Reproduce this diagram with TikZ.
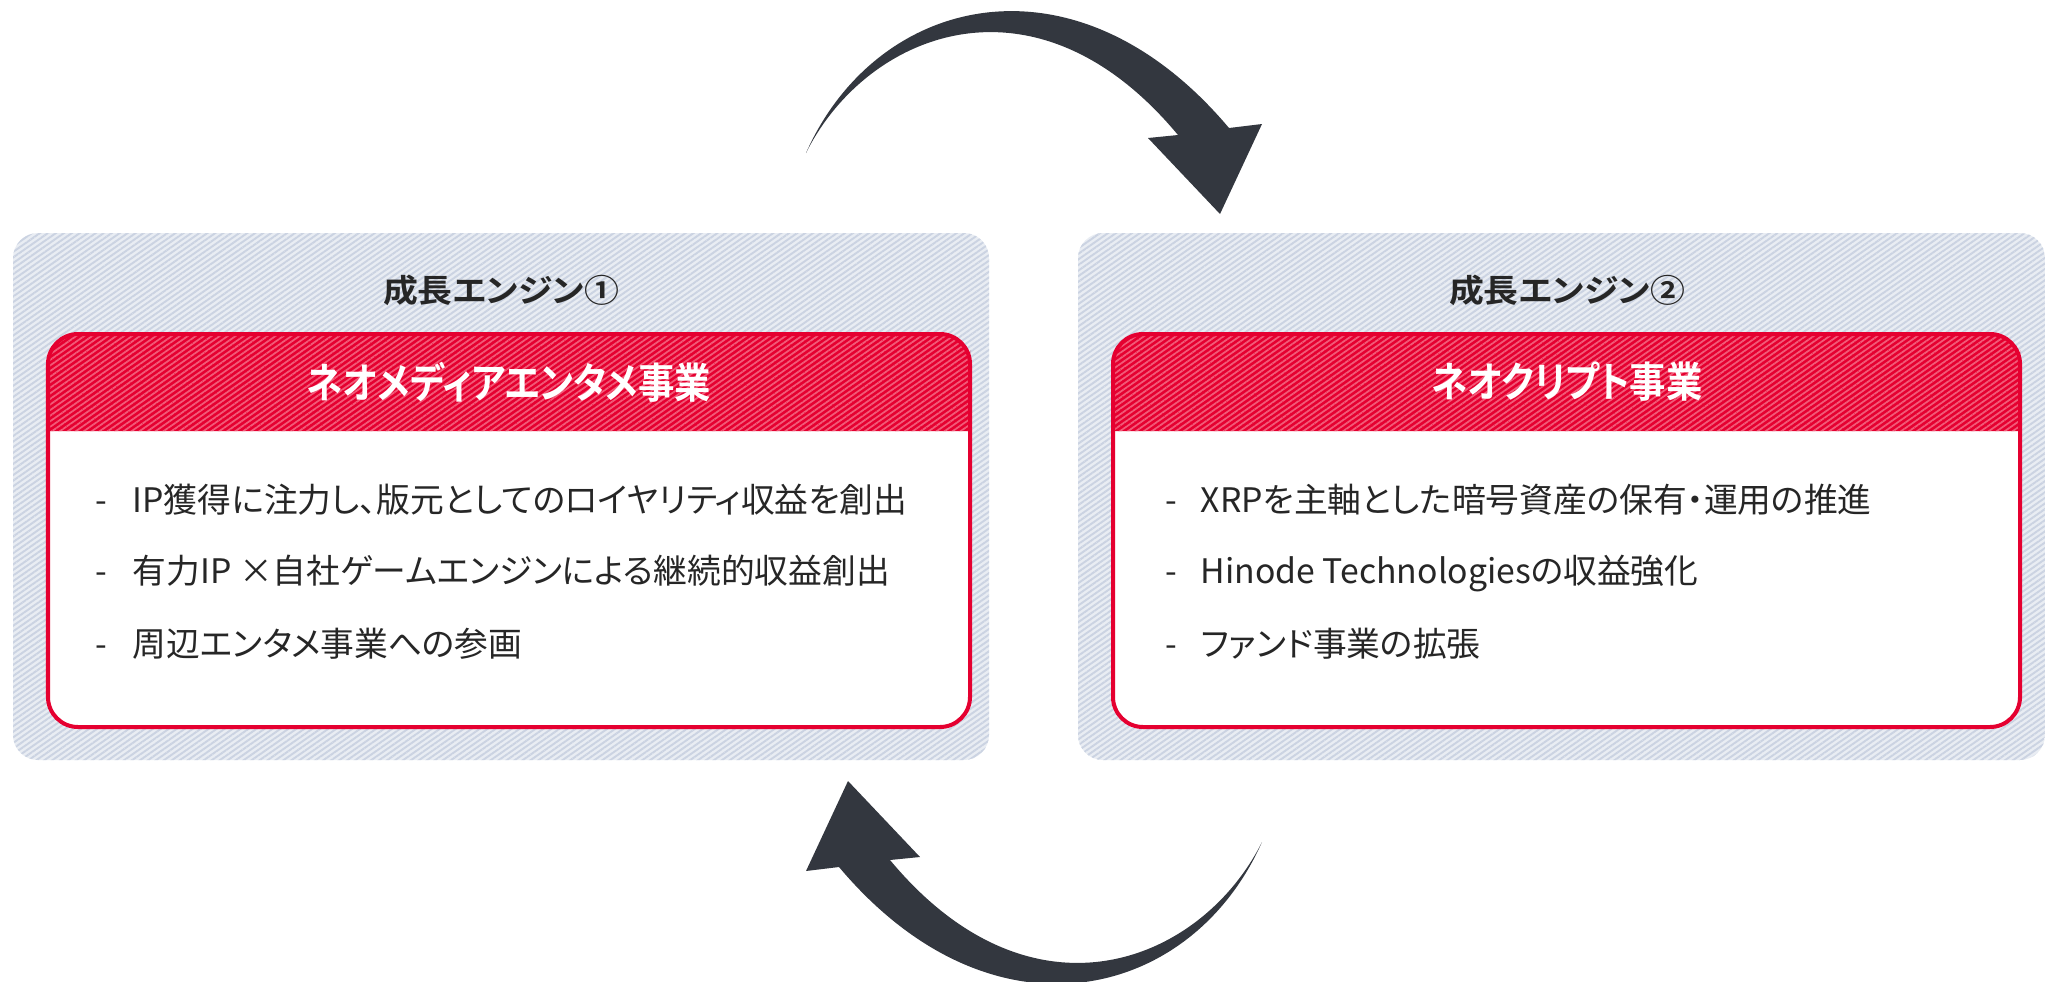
\documentclass[tikz,border=0pt]{standalone}
\usepackage{fontspec}
\usetikzlibrary{patterns.meta}
\setmainfont[RawFeature=+palt,BoldFont={Noto Sans CJK JP Bold}]{Noto Sans CJK JP}
\definecolor{outerbg}{HTML}{E9EDF3}
\definecolor{outerline}{HTML}{CBD3E2}
\definecolor{redbase}{HTML}{E50030}
\definecolor{redline}{HTML}{F25A78}
\definecolor{arrowcol}{HTML}{33373F}
\definecolor{txt}{HTML}{262626}
\begin{document}
\begin{tikzpicture}[x=0.01cm,y=-0.01cm,
  outerbox/.style={preaction={fill=outerbg},pattern={Lines[angle=35,distance=1.3pt,line width=0.55pt]},pattern color=outerline},
  headfill/.style={preaction={fill=redbase},pattern={Lines[angle=35,distance=1.3pt,line width=0.5pt]},pattern color=redline},
  redframe/.style={draw=redbase,line width=1.14pt,rounded corners=0.3cm},
  titletext/.style={font=\bfseries\fontsize{9.1pt}{11pt}\selectfont,text=txt,inner sep=0pt},
  headtext/.style={font=\bfseries\fontsize{11.9pt}{14pt}\selectfont,text=white,inner sep=0pt},
  itemtext/.style={font=\fontsize{9.6pt}{11pt}\selectfont,text=txt,anchor=base west,inner sep=0pt},
  bigarrow/.style={fill=arrowcol,draw=none}]
\useasboundingbox (0,0) rectangle (2045,981);

% outer panels
\path[outerbox,rounded corners=0.25cm] (13,233) rectangle (989,760);
\path[outerbox,rounded corners=0.25cm] (1078,233) rectangle (2045,760);

% left red box
\path[fill=white,rounded corners=0.3cm] (48,334) rectangle (970,727);
\path[headfill] (48,431) -- (48,380) [rounded corners=0.3cm] -- (48,334) -- (970,334) -- (970,380) [sharp corners] -- (970,431) -- cycle;
\path[redframe] (48,334) rectangle (970,727);

% right red box
\path[fill=white,rounded corners=0.3cm] (1113,334) rectangle (2020,727);
\path[headfill] (1113,431) -- (1113,380) [rounded corners=0.3cm] -- (1113,334) -- (2020,334) -- (2020,380) [sharp corners] -- (2020,431) -- cycle;
\path[redframe] (1113,334) rectangle (2020,727);

% titles
\node[titletext] (t1) at (501,290) {\scalebox{1.09}[1]{成長エンジン①}};
\node[titletext] (t2) at (1567,290) {\scalebox{1.09}[1]{成長エンジン②}};
\node[headtext] (h1) at (509,382) {\scalebox{0.87}[1]{ネオメディアエンタメ事業}};
\node[headtext] (h2) at (1567,382) {\scalebox{0.87}[1]{ネオクリプト事業}};

% left items
\node[itemtext] (d1) at (95,512) {-};
\node[itemtext] (l1) at (132,512) {IP獲得に注力し、版元としてのロイヤリティ収益を創出};
\node[itemtext] (d2) at (95,583) {-};
\node[itemtext] (l2) at (132,583) {有力IP ×自社ゲームエンジンによる継続的収益創出};
\node[itemtext] (d3) at (95,656) {-};
\node[itemtext] (l3) at (132,656) {周辺エンタメ事業への参画};

% right items
\node[itemtext] (e1) at (1165,512) {-};
\node[itemtext] (r1) at (1200,512) {XRPを主軸とした暗号資産の保有・運用の推進};
\node[itemtext] (e2) at (1165,583) {-};
\node[itemtext] (r2) at (1200,583) {Hinode Technologiesの収益強化};
\node[itemtext] (e3) at (1165,656) {-};
\node[itemtext] (r3) at (1200,656) {ファンド事業の拡張};

% cycle arrows
\path[bigarrow] (806,153) .. controls (876,-5) and (1075,-55) .. (1229,128)
  -- (1262,124) -- (1220,214) -- (1148,138) -- (1178,135)
  .. controls (1035,-37) and (866,33) .. (806,153) -- cycle;
\path[bigarrow,rotate around={180:(1034,497.5)}] (806,153) .. controls (876,-5) and (1075,-55) .. (1229,128)
  -- (1262,124) -- (1220,214) -- (1148,138) -- (1178,135)
  .. controls (1035,-37) and (866,33) .. (806,153) -- cycle;
\end{tikzpicture}
\end{document}
